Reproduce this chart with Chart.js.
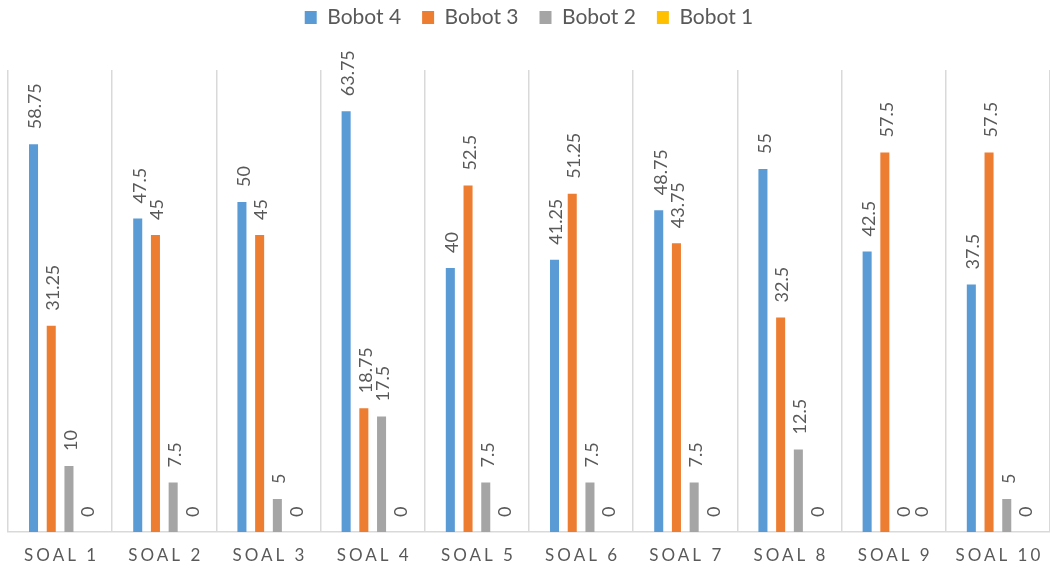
<!DOCTYPE html>
<html>
<head>
<meta charset="utf-8">
<script src="https://cdn.jsdelivr.net/npm/chart.js@4/dist/chart.umd.min.js"></script>
<style>
  html, body { margin:0; padding:0; background:#fff; overflow:hidden; }
  #wrap { width:1050px; height:571px; position:relative; }
</style>
</head>
<body>
<div id="wrap"><canvas id="chart"></canvas></div>
<script>
// ------------------------------
// DATA
// ------------------------------

const categories = ["SOAL 1","SOAL 2","SOAL 3","SOAL 4","SOAL 5","SOAL 6","SOAL 7","SOAL 8","SOAL 9","SOAL 10"]

const bobot4 = [58.75, 47.5, 50, 63.75, 40, 41.25, 48.75, 55, 42.5, 37.5]
const bobot3 = [31.25, 45, 45, 18.75, 52.5, 51.25, 43.75, 32.5, 57.5, 57.5]
const bobot2 = [10, 7.5, 5, 17.5, 7.5, 7.5, 7.5, 12.5, 0, 5]
const bobot1 = [0, 0, 0, 0, 0, 0, 0, 0, 0, 0]

const textColor = "#595959"
const fontFamily = "Lato, 'Open Sans', sans-serif"

// ------------------------------
// PLUGINS
// ------------------------------

// make the legend box taller so the plot starts lower
const legendHeight = {
    id:"legendHeight",
    beforeInit(chart){
        const legend = chart.legend
        if(!legend) return
        const fit = legend.fit
        legend.fit = function(){
            fit.call(this)
            this.height = 84
        }
    }
}

// rotated value labels above each bar
const valueLabels = {
    id:"valueLabels",
    afterDatasetsDraw(chart){
        const ctx = chart.ctx
        ctx.save()
        ctx.fillStyle = textColor
        ctx.font = `18px ${fontFamily}`
        ctx.textAlign = "left"
        ctx.textBaseline = "middle"
        chart.data.datasets.forEach((ds,i)=>{
            const meta = chart.getDatasetMeta(i)
            meta.data.forEach((bar,j)=>{
                ctx.save()
                ctx.translate(bar.x + 2, bar.y - 15)
                ctx.rotate(-Math.PI/2)
                ctx.fillText(String(ds.data[j]), 0, 0)
                ctx.restore()
            })
        })
        ctx.restore()
    }
}

// letter-spaced category labels under the axis
const categoryLabels = {
    id:"categoryLabels",
    afterDraw(chart){
        const ctx = chart.ctx
        const x = chart.scales.x
        ctx.save()
        ctx.fillStyle = textColor
        ctx.font = `17px ${fontFamily}`
        ctx.letterSpacing = "3px"
        ctx.textAlign = "center"
        ctx.textBaseline = "middle"
        categories.forEach((c,i)=>{
            ctx.fillText(c, x.getPixelForTick(i) + 1.5, x.bottom + 24)
        })
        ctx.restore()
    }
}

// ------------------------------
// CHART
// ------------------------------

const ctx = document.getElementById("chart").getContext("2d")

const chart = new Chart(ctx,{
    type:"bar",
    data:{
        labels:categories,
        datasets:[
            { label:"Bobot 4", data:bobot4, backgroundColor:"#5B9BD5" },
            { label:"Bobot 3", data:bobot3, backgroundColor:"#ED7D31" },
            { label:"Bobot 2", data:bobot2, backgroundColor:"#A5A5A5" },
            { label:"Bobot 1", data:bobot1, backgroundColor:"#FFC000" }
        ]
    },
    options:{
        responsive:true,
        maintainAspectRatio:false,
        animation:false,
        datasets:{
            bar:{ categoryPercentage:0.68, barPercentage:0.51 }
        },
        layout:{
            padding:{ left:8, right:0, top:-14, bottom:39 }
        },
        plugins:{
            legend:{
                position:"top",
                labels:{
                    color:textColor,
                    font:{ family:fontFamily, size:21 },
                    boxWidth:12,
                    boxHeight:13,
                    padding:21
                }
            },
            tooltip:{ enabled:false }
        },
        scales:{
            x:{
                grid:{ color:"#d9d9d9", lineWidth:1.5, drawTicks:false, offset:true },
                border:{ color:"#d9d9d9", width:1.5 },
                ticks:{ display:false }
            },
            y:{
                display:false,
                min:0,
                max:70
            }
        }
    },
    plugins:[legendHeight, valueLabels, categoryLabels]
})
</script>
</body>
</html>
